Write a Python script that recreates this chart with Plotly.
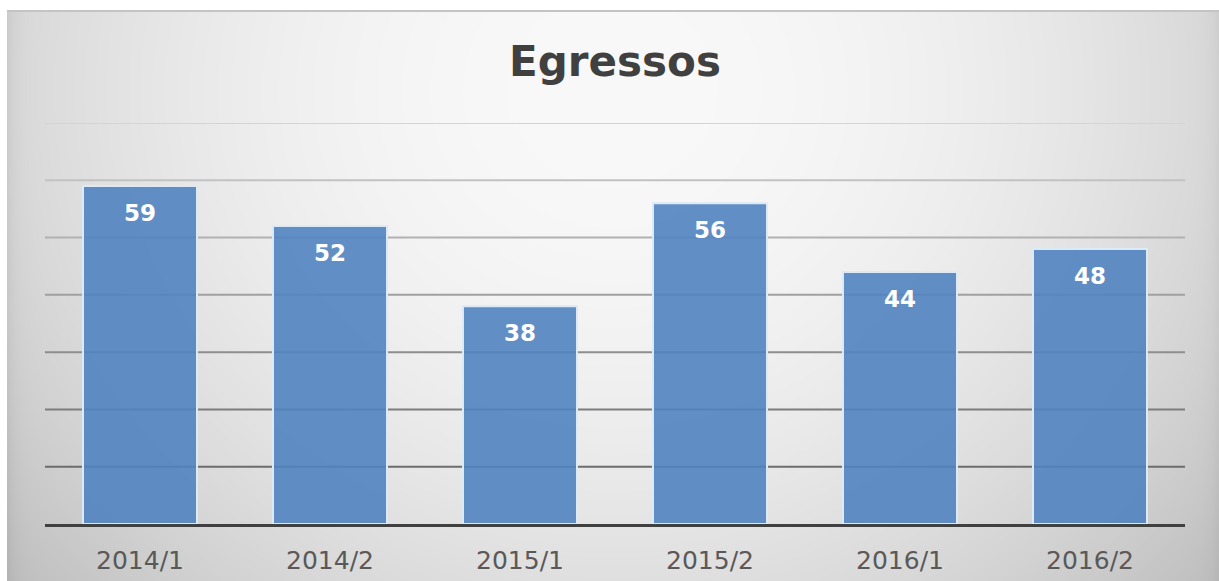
import base64, struct, zlib
import numpy as np
import plotly.graph_objects as go

# ---- data ----
categories = ["2014/1", "2014/2", "2015/1", "2015/2", "2016/1", "2016/2"]
values = [59, 52, 38, 56, 44, 48]
grid_ticks = [10, 20, 30, 40, 50, 60, 70]
title_text = "Egressos"

# ---- figure geometry (pixels) ----
W, H = 1219, 581
L, R, T, B = 45, 1185, 123, 524          # plot area
FX0, FY0 = 7, 10                         # chart frame top-left
EXT = 10                                 # let the background run past the edges


def gradient_png(w, h):
    ys, xs = np.mgrid[0:h, 0:w].astype(float)
    px = xs + FX0
    py = ys + FY0
    d2 = ((px - 612) / 650.0) ** 2 + ((py - 90) / 600.0) ** 2
    v = 249 - 38 * d2
    v -= 12 * np.exp(-(px - FX0) / 8.0)
    v -= 10 * np.exp(-np.abs(W - px) / 8.0)
    v = np.where(ys < 2, 196, v)
    img = np.clip(v, 0, 255).astype(np.uint8)
    sub = img.astype(np.int16)
    filt = np.empty_like(sub)
    filt[:, 0] = sub[:, 0]
    filt[:, 1:] = (sub[:, 1:] - sub[:, :-1]) & 0xFF
    filt = filt.astype(np.uint8)
    raw = b"".join(b"\x01" + filt[r].tobytes() for r in range(h))

    def chunk(tag, data):
        c = struct.pack(">I", len(data)) + tag + data
        return c + struct.pack(">I", zlib.crc32(tag + data) & 0xFFFFFFFF)

    png = b"\x89PNG\r\n\x1a\n"
    png += chunk(b"IHDR", struct.pack(">IIBBBBB", w, h, 8, 0, 0, 0, 0))
    png += chunk(b"IDAT", zlib.compress(raw, 9))
    png += chunk(b"IEND", b"")
    return "data:image/png;base64," + base64.b64encode(png).decode()


gw, gh = W - FX0 + EXT, H - FY0 + EXT
bg_src = gradient_png(gw, gh)

pw, ph = R - L, B - T

fig = go.Figure()
fig.add_trace(go.Bar(
    x=categories,
    y=values,
    marker=dict(color="rgba(81,132,192,0.9)",
                line=dict(color="#dce9f6", width=2)),
    hoverinfo="x+y",
))

for c, v in zip(categories, values):
    fig.add_annotation(x=c, y=v, text=f"<b>{v}</b>", showarrow=False,
                       yanchor="middle", yshift=-27,
                       font=dict(family="DejaVu Sans", size=23, color="white"))

for t in grid_ticks:
    g = int(108 + (t - 10) / 60 * (212 - 108))
    fig.add_shape(type="line", xref="paper", x0=0, x1=1, yref="y", y0=t, y1=t,
                  line=dict(color=f"rgb({g},{g},{g})", width=2), layer="below")

fig.add_layout_image(
    source=bg_src, xref="paper", yref="paper",
    x=(FX0 - L) / pw, y=(B - FY0) / ph,
    sizex=gw / pw, sizey=gh / ph,
    xanchor="left", yanchor="top", sizing="stretch", layer="below",
)

fig.update_layout(
    width=W, height=H,
    margin=dict(l=L, r=W - R, t=T, b=H - B, pad=0, autoexpand=False),
    paper_bgcolor="white",
    plot_bgcolor="rgba(0,0,0,0)",
    bargap=0.4,
    showlegend=False,
    title=dict(text=f"<b>{title_text}</b>", x=0.5, xref="paper", xanchor="center",
               y=1 - 61 / H, yanchor="middle", yref="container",
               font=dict(family="DejaVu Sans", size=42, color="#404040")),
    xaxis=dict(showline=True, linecolor="#404040", linewidth=3,
               showgrid=False, ticks="", ticklabelstandoff=12, automargin=False,
               tickfont=dict(family="DejaVu Sans", size=25, color="#595959"),
               fixedrange=True),
    yaxis=dict(range=[0, 70], showgrid=False, showticklabels=False, automargin=False,
               zeroline=False, showline=False, fixedrange=True),
)

fig.write_html(
    "out.html",
    config={"displayModeBar": False},
    post_script=(
        "document.documentElement.style.cssText='margin:0;padding:0;overflow:hidden;';"
        "document.body.style.cssText='margin:0;padding:0;overflow:hidden;';"
    ),
)
